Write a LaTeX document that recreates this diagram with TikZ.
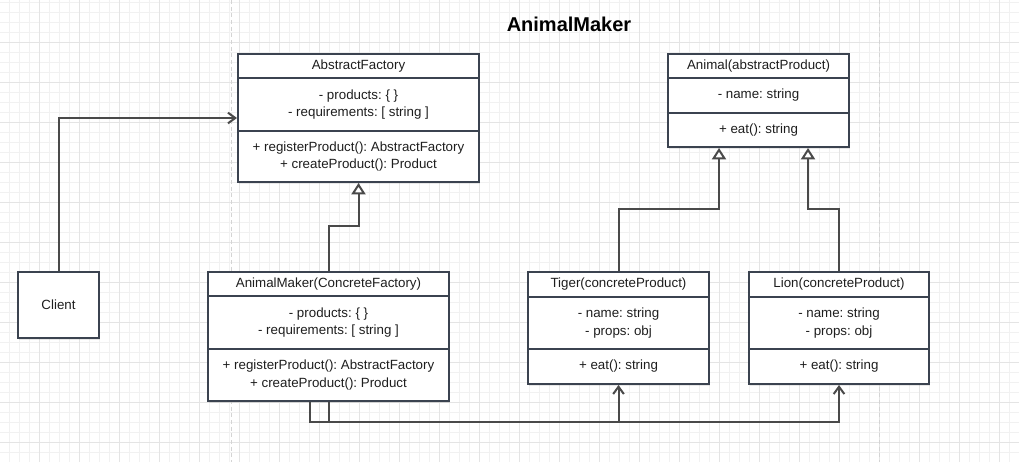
\documentclass[tikz,border=0pt]{standalone}
\usepackage{fontspec}
\setmainfont{Liberation Sans}
\frenchspacing
\usetikzlibrary{arrows.meta,calc,shadows}
\definecolor{boxc}{HTML}{3B4350}
\definecolor{linec}{HTML}{4A4A4A}
\definecolor{txt}{HTML}{1E1E1E}
\definecolor{gminor}{HTML}{F1F1F1}
\definecolor{gmajor}{HTML}{E4E4E4}
\definecolor{guide}{HTML}{D4D4D4}
\begin{document}
\begin{tikzpicture}[x=0.75pt,y=-0.75pt,
  sz/.style 2 args={minimum width=#1*0.75pt, minimum height=#2*0.75pt},
  cls/.style={draw=boxc, line width=1.5pt, fill=white, inner sep=0pt,
    drop shadow={shadow xshift=1pt, shadow yshift=-1.2pt, opacity=0.18}},
  part/.style={draw=boxc, line width=1.5pt, inner sep=0pt, text=txt, align=center,
    font=\fontsize{10}{13.2}\selectfont},
  conn/.style={draw=linec, line width=1.5pt},
  inh/.style={conn, -{Triangle[open, fill=white, length=8.5pt, width=10.5pt]}},
  dep/.style={conn, -{Straight Barb[length=5.5pt, width=8pt]}},
  gmin/.style={draw=gminor, line width=0.75pt},
  gmaj/.style={draw=gmajor, line width=0.75pt},
  guideline/.style={draw=guide, line width=0.75pt, dash pattern=on 3pt off 2pt}
]
\useasboundingbox (0,0) rectangle (1019,462);
\fill[white] (0,0) rectangle (1019,462);
% grid
\foreach \x in {9.5,19.5,...,1019} \draw[gmin] (\x,0) -- (\x,462);
\foreach \y in {2.5,12.5,...,462} \draw[gmin] (0,\y) -- (1019,\y);
\foreach \x in {39.5,79.5,...,1019} \draw[gmaj] (\x,0) -- (\x,462);
\foreach \y in {42.5,82.5,...,462} \draw[gmaj] (0,\y) -- (1019,\y);
\draw[guideline] (231,0) -- (231,462);
\draw[guideline] (879,0) -- (879,462);

% title
\node[font=\fontsize{15}{18}\selectfont\bfseries, text=black] (title) at (569,24) {AnimalMaker};

% AbstractFactory
\node[cls, sz={241}{128}] (af) at (358.5,118) {};
\node[part, sz={241}{24}] (afT) at (358.5,66) {AbstractFactory};
\node[part, sz={241}{53}] (afA) at (358.5,104.5) {- products: \{ \}\\- requirements: [ string ]};
\node[part, sz={241}{51}] (afM) at (358.5,156.5) {+ registerProduct(): AbstractFactory\\+ createProduct(): Product};

% Animal
\node[cls, sz={181}{93}] (an) at (758.5,100.5) {};
\node[part, sz={181}{24}] (anT) at (758.5,66) {Animal(abstractProduct)};
\node[part, sz={181}{35}] (anA) at (758.5,95.5) {- name: string};
\node[part, sz={181}{34}] (anM) at (758.5,130) {+ eat(): string};

% AnimalMaker
\node[cls, sz={241}{129}] (am) at (328.5,336.5) {};
\node[part, sz={241}{24}] (amT) at (328.5,284) {AnimalMaker(ConcreteFactory)};
\node[part, sz={241}{53}] (amA) at (328.5,322.5) {- products: \{ \}\\- requirements: [ string ]};
\node[part, sz={241}{52}] (amM) at (328.5,375) {+ registerProduct(): AbstractFactory\\+ createProduct(): Product};

% Tiger
\node[cls, sz={181}{112}] (tg) at (618.5,328) {};
\node[part, sz={181}{25}] (tgT) at (618.5,284.5) {Tiger(concreteProduct)};
\node[part, sz={181}{52}] (tgA) at (618.5,323) {- name: string\\- props: obj};
\node[part, sz={181}{35}] (tgM) at (618.5,366.5) {+ eat(): string};

% Lion
\node[cls, sz={180}{112}] (ln) at (839,328) {};
\node[part, sz={180}{25}] (lnT) at (839,284.5) {Lion(concreteProduct)};
\node[part, sz={180}{52}] (lnA) at (839,323) {- name: string\\- props: obj};
\node[part, sz={180}{35}] (lnM) at (839,366.5) {+ eat(): string};

% Client
\node[cls, sz={81}{66}, text=txt, font=\fontsize{10}{13.2}\selectfont] (cl) at (58.5,305) {Client};

% connectors
\draw[dep] (cl.north) |- (af.west);
\draw[inh] (am.north) -- ++(0,-45) -| (af.south);
\draw[inh] (tg.north) -- ++(0,-62) -| ($(an.south)+(-39.5,0)$);
\draw[inh] (ln.north) -- ++(0,-62) -| ($(an.south)+(49.5,0)$);
\draw[dep] (am.south) -- ++(0,20) -| (tg.south);
\draw[dep] ($(am.south)+(-19,0)$) -- ++(0,20) -| (ln.south);
\end{tikzpicture}
\end{document}
